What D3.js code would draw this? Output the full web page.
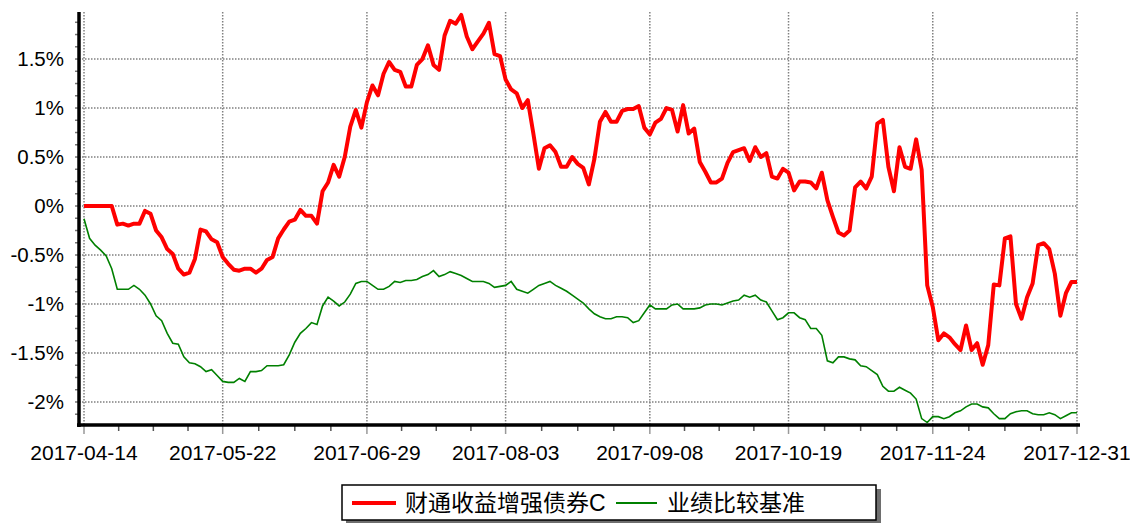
<!DOCTYPE html>
<html>
<head>
<meta charset="utf-8">
<script src="https://cdn.jsdelivr.net/npm/d3@7"></script>
<style>
  body { margin: 0; background: #fff; }
  svg { display: block; font-family: "Liberation Sans", Arial, "Noto Sans CJK SC", sans-serif; }
</style>
</head>
<body>
<svg id="chart" width="1130" height="523"></svg>
<script>
// trading days (plus quarter/year end NAV dates), month by month
var apr = ["04-14","04-17","04-18","04-19","04-20","04-21","04-24","04-25","04-26","04-27","04-28"];
var may = ["05-02","05-03","05-04","05-05","05-08","05-09","05-10","05-11","05-12","05-15","05-16","05-17","05-18","05-19","05-22","05-23","05-24","05-25","05-26","05-31"];
var jun = ["06-01","06-02","06-05","06-06","06-07","06-08","06-09","06-12","06-13","06-14","06-15","06-16","06-19","06-20","06-21","06-22","06-23","06-26","06-27","06-28","06-29","06-30"];
var jul = ["07-03","07-04","07-05","07-06","07-07","07-10","07-11","07-12","07-13","07-14","07-17","07-18","07-19","07-20","07-21","07-24","07-25","07-26","07-27","07-28","07-31"];
var aug = ["08-01","08-02","08-03","08-04","08-07","08-08","08-09","08-10","08-11","08-14","08-15","08-16","08-17","08-18","08-21","08-22","08-23","08-24","08-25","08-28","08-29","08-30","08-31"];
var sep = ["09-01","09-04","09-05","09-06","09-07","09-08","09-11","09-12","09-13","09-14","09-15","09-18","09-19","09-20","09-21","09-22","09-25","09-26","09-27","09-28","09-29","09-30"];
var oct = ["10-09","10-10","10-11","10-12","10-13","10-16","10-17","10-18","10-19","10-20","10-23","10-24","10-25","10-26","10-27","10-30","10-31"];
var nov = ["11-01","11-02","11-03","11-06","11-07","11-08","11-09","11-10","11-13","11-14","11-15","11-16","11-17","11-20","11-21","11-22","11-23","11-24","11-27","11-28","11-29","11-30"];
var dec = ["12-01","12-04","12-05","12-06","12-07","12-08","12-11","12-12","12-13","12-14","12-15","12-18","12-19","12-20","12-21","12-22","12-25","12-26","12-27","12-28","12-29","12-31"];
var dates = [].concat(apr, may, jun, jul, aug, sep, oct, nov, dec).map(function(d){ return "2017-" + d; });

var tickLabels = ["2017-04-14","2017-05-22","2017-06-29","2017-08-03","2017-09-08","2017-10-19","2017-11-24","2017-12-31"];
var yTicks = [-2, -1.5, -1, -0.5, 0, 0.5, 1, 1.5];

var seriesNames = ["财通收益增强债券C", "业绩比较基准"];

// 财通收益增强债券C (%)
var fund = [
  0, 0, 0, 0, 0, 0, -0.19, -0.18, -0.20, -0.18,
  -0.18, -0.05, -0.08, -0.25, -0.32, -0.44, -0.49, -0.64, -0.70, -0.68,
  -0.54, -0.24, -0.26, -0.34, -0.37, -0.52, -0.59, -0.65, -0.66, -0.64,
  -0.64, -0.68, -0.64, -0.55, -0.52, -0.33, -0.24, -0.16, -0.14, -0.04,
  -0.10, -0.10, -0.18, 0.15, 0.24, 0.42, 0.30, 0.50, 0.81, 0.98,
  0.80, 1.06, 1.23, 1.13, 1.35, 1.47, 1.39, 1.37, 1.22, 1.22,
  1.44, 1.50, 1.64, 1.44, 1.39, 1.74, 1.89, 1.86, 1.95, 1.73,
  1.60, 1.68, 1.76, 1.87, 1.55, 1.53, 1.29, 1.19, 1.15, 1.00,
  1.08, 0.74, 0.38, 0.59, 0.62, 0.55, 0.40, 0.40, 0.50, 0.43,
  0.39, 0.22, 0.48, 0.86, 0.96, 0.86, 0.86, 0.97, 0.99, 0.99,
  1.02, 0.80, 0.73, 0.85, 0.89, 1.00, 0.98, 0.76, 1.03, 0.74,
  0.79, 0.45, 0.35, 0.24, 0.24, 0.28, 0.44, 0.55, 0.57, 0.59,
  0.46, 0.60, 0.50, 0.54, 0.30, 0.28, 0.38, 0.34, 0.16, 0.25,
  0.25, 0.24, 0.18, 0.34, 0.06, -0.11, -0.27, -0.30, -0.25, 0.19,
  0.25, 0.18, 0.30, 0.84, 0.88, 0.40, 0.15, 0.60, 0.40, 0.38,
  0.68, 0.37, -0.81, -1.03, -1.37, -1.30, -1.34, -1.41, -1.47, -1.22,
  -1.47, -1.40, -1.62, -1.42, -0.80, -0.81, -0.33, -0.31, -1.00, -1.15,
  -0.93, -0.79, -0.40, -0.38, -0.44, -0.69, -1.12, -0.89, -0.775, -0.775
];

// 业绩比较基准 (%)
var bench = [
  -0.13, -0.33, -0.40, -0.45, -0.51, -0.64, -0.85, -0.85, -0.85, -0.81,
  -0.85, -0.91, -1.00, -1.12, -1.17, -1.30, -1.40, -1.41, -1.54, -1.60,
  -1.61, -1.64, -1.69, -1.67, -1.73, -1.79, -1.80, -1.80, -1.76, -1.79,
  -1.69, -1.69, -1.68, -1.63, -1.63, -1.63, -1.62, -1.52, -1.39, -1.30,
  -1.25, -1.19, -1.21, -1.02, -0.93, -0.97, -1.02, -0.98, -0.90, -0.79,
  -0.77, -0.77, -0.81, -0.85, -0.85, -0.82, -0.77, -0.78, -0.76, -0.76,
  -0.75, -0.72, -0.70, -0.66, -0.72, -0.70, -0.67, -0.69, -0.71, -0.74,
  -0.77, -0.77, -0.77, -0.79, -0.83, -0.82, -0.81, -0.77, -0.85, -0.87,
  -0.89, -0.85, -0.81, -0.79, -0.77, -0.81, -0.84, -0.87, -0.91, -0.95,
  -0.99, -1.05, -1.10, -1.13, -1.15, -1.15, -1.13, -1.13, -1.14, -1.19,
  -1.17, -1.09, -1.01, -1.05, -1.05, -1.05, -1.01, -1.00, -1.05, -1.05,
  -1.05, -1.04, -1.01, -1.00, -1.00, -1.01, -0.99, -0.97, -0.96, -0.91,
  -0.93, -0.91, -0.96, -0.98, -1.07, -1.16, -1.14, -1.09, -1.09, -1.14,
  -1.16, -1.25, -1.25, -1.32, -1.58, -1.60, -1.54, -1.54, -1.56, -1.57,
  -1.63, -1.64, -1.68, -1.72, -1.84, -1.89, -1.89, -1.85, -1.88, -1.91,
  -1.97, -2.17, -2.21, -2.15, -2.15, -2.17, -2.15, -2.11, -2.09, -2.05,
  -2.02, -2.02, -2.05, -2.06, -2.12, -2.17, -2.17, -2.12, -2.10, -2.09,
  -2.09, -2.12, -2.13, -2.13, -2.11, -2.13, -2.17, -2.14, -2.11, -2.11
];

var svg = d3.select("#chart");
var plotL = 79, plotR = 1077, plotT = 12, plotB = 425;

var x = d3.scaleLinear().domain([0, dates.length - 1]).range([84, plotR]);
var y = d3.scaleLinear().domain([-2.235, 1.98]).range([plotB, plotT]);

var tickIdx = tickLabels.map(function(d){ return dates.indexOf(d); });

// grid
var grid = svg.append("g").attr("stroke", "#808080").attr("stroke-width", 1.5).attr("stroke-dasharray", "1.5,1.5");
grid.selectAll(".hg").data(yTicks).enter().append("line")
  .attr("x1", plotL).attr("x2", plotR)
  .attr("y1", function(d){ return y(d); }).attr("y2", function(d){ return y(d); });
grid.selectAll(".vg").data(tickIdx).enter().append("line")
  .attr("y1", plotT).attr("y2", plotB)
  .attr("x1", function(d){ return x(d); }).attr("x2", function(d){ return x(d); });

// minor y ticks every 0.125%
var yMinor = d3.range(-2.125, 1.9, 0.125);
svg.append("g").selectAll("line").data(yMinor).enter().append("line")
  .attr("x1", plotL - 4).attr("x2", plotL)
  .attr("y1", function(d){ return y(d); }).attr("y2", function(d){ return y(d); })
  .attr("stroke", "#777").attr("stroke-width", 1.5);

// x ticks: majors at labels, 3 minors between
var xMinor = [];
for (var k = 0; k < tickIdx.length - 1; k++) {
  for (var m = 1; m < 4; m++) xMinor.push(tickIdx[k] + (tickIdx[k + 1] - tickIdx[k]) * m / 4);
}
svg.append("g").selectAll("line").data(xMinor).enter().append("line")
  .attr("x1", function(d){ return x(d); }).attr("x2", function(d){ return x(d); })
  .attr("y1", plotB).attr("y2", plotB + 6)
  .attr("stroke", "#555").attr("stroke-width", 1.5);
svg.append("g").selectAll("line").data(tickIdx).enter().append("line")
  .attr("x1", function(d){ return x(d); }).attr("x2", function(d){ return x(d); })
  .attr("y1", plotB).attr("y2", plotB + 9)
  .attr("stroke", "#999").attr("stroke-width", 1.5);

// axis lines
svg.append("line").attr("x1", plotL).attr("x2", plotL).attr("y1", plotT).attr("y2", plotB + 2)
  .attr("stroke", "#000").attr("stroke-width", 3.5);
svg.append("line").attr("x1", plotL - 2).attr("x2", plotR + 3).attr("y1", plotB).attr("y2", plotB)
  .attr("stroke", "#000").attr("stroke-width", 3.5);

// labels
function pct(d) { return (+d.toFixed(2)) + "%"; }
svg.append("g").selectAll("text").data(yTicks).enter().append("text")
  .attr("x", 64).attr("y", function(d){ return y(d); }).attr("dy", "0.36em")
  .attr("text-anchor", "end").attr("font-size", 20.5).attr("fill", "#000")
  .text(pct);
svg.append("g").selectAll("text").data(tickLabels).enter().append("text")
  .attr("x", function(d, i){ return x(tickIdx[i]); }).attr("y", 460)
  .attr("text-anchor", "middle").attr("font-size", 21).attr("fill", "#000")
  .text(function(d){ return d; });

// series
var line = d3.line().x(function(d, i){ return x(i); }).y(function(d){ return y(d); });
svg.append("path").datum(bench).attr("d", line)
  .attr("fill", "none").attr("stroke", "#008000").attr("stroke-width", 1.6);
svg.append("path").datum(fund).attr("d", line)
  .attr("fill", "none").attr("stroke", "#ff0000").attr("stroke-width", 4)
  .attr("stroke-linejoin", "round");

// legend
var lg = svg.append("g");
lg.append("rect").attr("x", 346).attr("y", 489).attr("width", 535).attr("height", 35).attr("fill", "#6e6e6e");
lg.append("rect").attr("x", 342).attr("y", 485).attr("width", 534).attr("height", 35)
  .attr("fill", "#fff").attr("stroke", "#000").attr("stroke-width", 1.5);
var items = [
  { name: seriesNames[0], color: "#ff0000", w: 4, x0: 352, x1: 396, tx: 405 },
  { name: seriesNames[1], color: "#008000", w: 2, x0: 616, x1: 657, tx: 667 }
];
items.forEach(function(it){
  lg.append("line").attr("x1", it.x0).attr("x2", it.x1).attr("y1", 503).attr("y2", 503)
    .attr("stroke", it.color).attr("stroke-width", it.w);
  lg.append("text").attr("x", it.tx).attr("y", 503).attr("dy", "0.36em")
    .attr("font-size", 23).attr("fill", "#000").text(it.name);
});
</script>
</body>
</html>
